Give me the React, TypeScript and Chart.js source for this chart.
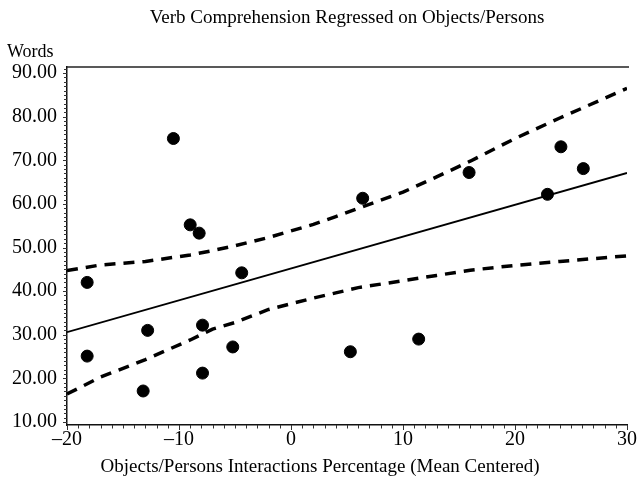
import React, { useEffect, useRef } from 'react';
import { Chart, registerables } from 'chart.js';

Chart.register(...registerables);

const chartTitle = 'Verb Comprehension Regressed on Objects/Persons';
const xAxisTitle = 'Objects/Persons Interactions Percentage (Mean Centered)';
const yAxisTitle = 'Words';

// Observed cases
const pointX = [-18.2, -18.2, -13.2, -12.8, -10.5, -9.0, -8.2, -7.9, -7.9, -5.2, -4.4, 5.3, 6.4, 11.4, 15.9, 22.9, 24.1, 26.1];
const pointY = [42.0, 25.1, 17.1, 31.0, 75.0, 55.2, 53.3, 32.2, 21.2, 27.2, 44.2, 26.1, 61.3, 29.0, 67.2, 62.2, 73.1, 68.1];

// Regression line
const fitX = [-20, 30];
const fitY = [30.6, 67.1];

// Confidence band
const bandX = [-20, -17, -13, -9, -7, -5, -2, 2, 4, 6, 10, 13, 16, 20, 24, 30];
const upperY = [44.7, 46.0, 46.8, 48.3, 49.3, 50.4, 52.3, 55.3, 57.1, 59.0, 62.7, 66.2, 69.8, 75.0, 79.7, 86.5];
const lowerY = [16.4, 20.3, 24.3, 28.8, 31.3, 32.8, 35.8, 38.4, 39.6, 40.8, 42.4, 43.6, 44.8, 45.9, 46.8, 48.1];

const xMin = -20;
const xMax = 30;
const yMin = 9.3;
const yMax = 91.4;
const xStep = 10;
const yStep = 10;

const FONT = "'Liberation Serif', 'Times New Roman', Times, serif";

const framePlugin = {
  id: 'frameAndMinorTicks',
  afterDraw(chart: any) {
    const { ctx, chartArea, scales } = chart;
    const xs = scales.x;
    const ys = scales.y;
    ctx.save();
    // top border of the plot frame
    ctx.strokeStyle = '#222';
    ctx.lineWidth = 1.5;
    ctx.beginPath();
    ctx.moveTo(chartArea.left, chartArea.top);
    ctx.lineTo(chartArea.right + 2, chartArea.top);
    ctx.stroke();
    // minor ticks
    ctx.strokeStyle = '#333';
    ctx.lineWidth = 1;
    for (let v = Math.ceil(xs.min); v <= xs.max; v++) {
      const px = Math.round(xs.getPixelForValue(v)) + 0.5;
      const len = v % 10 === 0 ? 5 : 3.5;
      ctx.beginPath();
      ctx.moveTo(px, chartArea.bottom);
      ctx.lineTo(px, chartArea.bottom + len);
      ctx.stroke();
    }
    for (let v = Math.ceil(ys.min); v <= ys.max; v++) {
      const py = Math.round(ys.getPixelForValue(v)) + 0.5;
      const len = v % 10 === 0 ? 4 : 3;
      ctx.beginPath();
      ctx.moveTo(chartArea.left, py);
      ctx.lineTo(chartArea.left - len, py);
      ctx.stroke();
    }
    // unit label of the y axis
    ctx.fillStyle = '#000';
    ctx.font = `18px ${FONT}`;
    ctx.textAlign = 'left';
    ctx.textBaseline = 'middle';
    ctx.fillText(yAxisTitle, 7, chartArea.top - 15);
    ctx.restore();
  },
};

export default function App() {
  const canvasRef = useRef<HTMLCanvasElement | null>(null);

  useEffect(() => {
    const canvas = canvasRef.current;
    if (!canvas) return;
    const lineDs = (label: string, xs: number[], ys: number[], extra: any) => ({
      type: 'line' as const,
      label,
      data: xs.map((x, i) => ({ x, y: ys[i] })),
      borderColor: '#000',
      backgroundColor: '#000',
      pointRadius: 0,
      tension: 0,
      fill: false,
      ...extra,
    });
    const chart = new Chart(canvas, {
      type: 'scatter',
      data: {
        datasets: [
          {
            label: 'Observed',
            data: pointX.map((x, i) => ({ x, y: pointY[i] })),
            pointRadius: 6,
            pointBackgroundColor: '#000',
            pointBorderColor: '#000',
            borderWidth: 1,
            showLine: false,
          } as any,
          lineDs('Linear fit', fitX, fitY, { borderWidth: 1.8 }),
          lineDs('Upper 95% CI', bandX, upperY, { borderWidth: 3.5, borderDash: [11, 8] }),
          lineDs('Lower 95% CI', bandX, lowerY, { borderWidth: 3.5, borderDash: [11, 8] }),
        ],
      },
      options: {
        responsive: false,
        animation: false,
        layout: { padding: { left: 0, right: 0, top: 0, bottom: 0 } },
        plugins: {
          legend: { display: false },
          tooltip: { enabled: false },
          title: {
            display: true,
            text: chartTitle,
            fullSize: false,
            color: '#000',
            font: { family: FONT, size: 19, weight: 'normal', lineHeight: 1.2 },
            padding: { top: 7, bottom: 37.2 },
          },
          subtitle: {
            display: true,
            position: 'bottom',
            text: xAxisTitle,
            color: '#000',
            font: { family: FONT, size: 19, weight: 'normal', lineHeight: 1.2 },
            padding: { top: 4, bottom: 9.6 },
          },
        },
        scales: {
          x: {
            type: 'linear',
            min: xMin,
            max: xMax,
            afterFit: (s: any) => {
              s.height = 26.6;
            },
            grid: { display: false, drawTicks: false },
            border: { display: true, color: '#111', width: 1.5 },
            ticks: {
              stepSize: xStep,
              padding: 3,
              color: '#000',
              font: { family: FONT, size: 20 },
              maxRotation: 0,
              autoSkip: false,
              callback: (v: any) => (Number(v) < 0 ? '\u2013' + Math.abs(Number(v)) : String(v)),
            },
          },
          y: {
            type: 'linear',
            min: yMin,
            max: yMax,
            afterFit: (s: any) => {
              s.width = 67;
            },
            grid: { display: false, drawTicks: false },
            border: { display: true, color: '#111', width: 1.5 },
            ticks: {
              stepSize: yStep,
              includeBounds: false,
              padding: 10,
              color: '#000',
              font: { family: FONT, size: 20 },
              autoSkip: false,
              callback: (v: any) => Number(v).toFixed(2),
            },
          },
        },
      } as any,
      plugins: [framePlugin],
    });
    return () => chart.destroy();
  }, []);

  return (
    <div style={{ position: 'absolute', left: 0, top: 0, width: 640, height: 488, background: '#fff' }}>
      <canvas ref={canvasRef} width={640} height={488} style={{ display: 'block' }} />
    </div>
  );
}
